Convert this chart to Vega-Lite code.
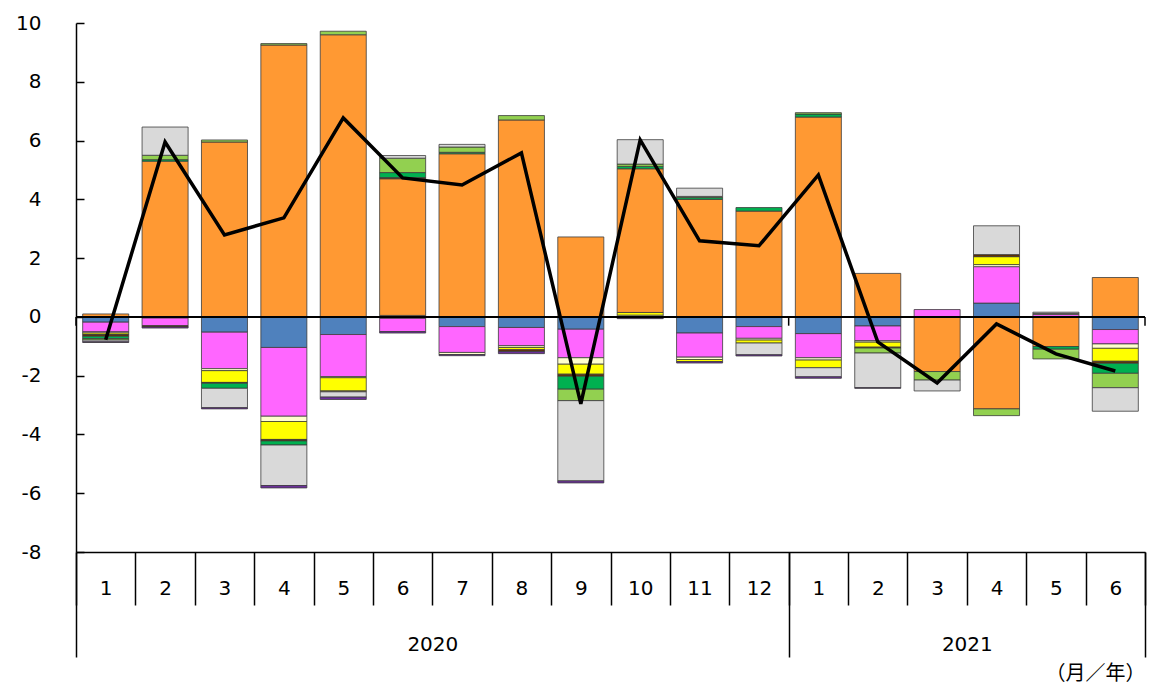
{
  "$schema": "https://vega.github.io/schema/vega-lite/v6.json",
  "width": 1069,
  "height": 529,
  "autosize": {"type": "none"},
  "padding": {"left": 76, "top": 23, "right": 6, "bottom": 136},
  "background": "white",
  "config": {"view": {"stroke": null}, "font": "DejaVu Sans", "axis": {"labelFont": "DejaVu Sans"}},
  "data": {"values": [
    {"period": "2020-01", "e_orange": 0.1, "a_blue": -0.18, "b_magenta": -0.33, "c_lightyellow": -0.04, "d_yellow": -0.05, "f_brown": -0.06, "g_darkgreen": -0.08, "h_lightgreen": -0.05, "i_gray": -0.06, "j_purple": -0.02, "total": -0.78},
    {"period": "2020-02", "e_orange": 5.3, "g_darkgreen": 0.05, "h_lightgreen": 0.15, "i_gray": 0.96, "a_blue": -0.04, "b_magenta": -0.26, "f_brown": -0.04, "j_purple": -0.04, "total": 5.95},
    {"period": "2020-03", "e_orange": 5.95, "h_lightgreen": 0.07, "a_blue": -0.52, "b_magenta": -1.24, "c_lightyellow": -0.07, "d_yellow": -0.4, "f_brown": -0.03, "g_darkgreen": -0.17, "i_gray": -0.66, "j_purple": -0.04, "total": 2.79},
    {"period": "2020-04", "e_orange": 9.25, "h_lightgreen": 0.05, "a_blue": -1.04, "b_magenta": -2.34, "c_lightyellow": -0.18, "d_yellow": -0.61, "f_brown": -0.05, "g_darkgreen": -0.14, "i_gray": -1.38, "j_purple": -0.08, "total": 3.37},
    {"period": "2020-05", "e_orange": 9.6, "h_lightgreen": 0.12, "a_blue": -0.6, "b_magenta": -1.43, "c_lightyellow": -0.04, "d_yellow": -0.45, "f_brown": -0.03, "i_gray": -0.18, "j_purple": -0.08, "total": 6.77},
    {"period": "2020-06", "c_lightyellow": 0.05, "e_orange": 4.65, "f_brown": 0.04, "g_darkgreen": 0.17, "h_lightgreen": 0.49, "i_gray": 0.09, "a_blue": -0.05, "b_magenta": -0.45, "j_purple": -0.05, "total": 4.73},
    {"period": "2020-07", "e_orange": 5.55, "g_darkgreen": 0.05, "h_lightgreen": 0.18, "i_gray": 0.09, "a_blue": -0.33, "b_magenta": -0.88, "c_lightyellow": -0.07, "j_purple": -0.04, "total": 4.49},
    {"period": "2020-08", "e_orange": 6.7, "h_lightgreen": 0.15, "a_blue": -0.36, "b_magenta": -0.62, "c_lightyellow": -0.06, "d_yellow": -0.08, "f_brown": -0.06, "j_purple": -0.07, "total": 5.58},
    {"period": "2020-09", "e_orange": 2.72, "a_blue": -0.42, "b_magenta": -0.97, "c_lightyellow": -0.22, "d_yellow": -0.34, "f_brown": -0.07, "g_darkgreen": -0.44, "h_lightgreen": -0.39, "i_gray": -2.73, "j_purple": -0.07, "total": -2.96},
    {"period": "2020-10", "c_lightyellow": 0.06, "d_yellow": 0.09, "e_orange": 4.89, "g_darkgreen": 0.08, "h_lightgreen": 0.08, "i_gray": 0.83, "a_blue": -0.03, "j_purple": -0.03, "total": 6.02},
    {"period": "2020-11", "e_orange": 4.0, "g_darkgreen": 0.06, "h_lightgreen": 0.04, "i_gray": 0.28, "a_blue": -0.55, "b_magenta": -0.82, "c_lightyellow": -0.08, "d_yellow": -0.07, "j_purple": -0.05, "total": 2.59},
    {"period": "2020-12", "e_orange": 3.6, "g_darkgreen": 0.12, "a_blue": -0.33, "b_magenta": -0.4, "c_lightyellow": -0.06, "d_yellow": -0.1, "i_gray": -0.4, "j_purple": -0.04, "total": 2.42},
    {"period": "2021-01", "e_orange": 6.8, "g_darkgreen": 0.1, "h_lightgreen": 0.05, "a_blue": -0.57, "b_magenta": -0.82, "c_lightyellow": -0.08, "d_yellow": -0.26, "i_gray": -0.31, "j_purple": -0.05, "total": 4.83},
    {"period": "2021-02", "e_orange": 1.48, "a_blue": -0.31, "b_magenta": -0.5, "c_lightyellow": -0.05, "d_yellow": -0.17, "f_brown": -0.03, "h_lightgreen": -0.17, "i_gray": -1.18, "j_purple": -0.02, "total": -0.85},
    {"period": "2021-03", "b_magenta": 0.25, "e_orange": -1.86, "h_lightgreen": -0.29, "i_gray": -0.37, "total": -2.25},
    {"period": "2021-04", "a_blue": 0.47, "b_magenta": 1.24, "c_lightyellow": 0.07, "d_yellow": 0.27, "f_brown": 0.07, "i_gray": 0.98, "e_orange": -3.13, "h_lightgreen": -0.23, "total": -0.24},
    {"period": "2021-05", "b_magenta": 0.08, "c_lightyellow": 0.04, "i_gray": 0.04, "e_orange": -1.01, "g_darkgreen": -0.09, "h_lightgreen": -0.33, "total": -1.26},
    {"period": "2021-06", "e_orange": 1.34, "a_blue": -0.43, "b_magenta": -0.49, "c_lightyellow": -0.15, "d_yellow": -0.44, "f_brown": -0.07, "g_darkgreen": -0.34, "h_lightgreen": -0.49, "i_gray": -0.8, "total": -1.84}
  ]},
  "layer": [
    {
      "layer": [
        {
          "transform": [
            {"fold": ["a_blue", "b_magenta", "c_lightyellow", "d_yellow", "e_orange", "f_brown", "g_darkgreen", "h_lightgreen", "i_gray", "j_purple"], "as": ["series", "value"]},
            {"filter": "isValid(datum.value)"}
          ],
          "mark": {"type": "bar", "stroke": "#3c3c3c", "strokeWidth": 0.8, "width": {"band": 0.775}},
          "encoding": {
            "x": {
              "field": "period", "type": "ordinal",
              "scale": {"paddingInner": 0, "paddingOuter": 0},
              "axis": {
                "orient": "bottom", "title": null, "grid": false,
                "labelExpr": "isValid(datum.value) && datum.value != '' ? '' + toNumber(substring(datum.value, 5)) : ''",
                "labelAngle": 0, "labelFontSize": 20, "labelColor": "black",
                "labelBaseline": "middle", "labelPadding": -17,
                "tickBand": "extent", "tickSize": 53, "tickColor": "black", "tickWidth": 1.5,
                "domainColor": "black", "domainWidth": 1.5
              }
            },
            "y": {
              "field": "value", "type": "quantitative", "stack": "zero",
              "scale": {"domain": [-8, 10], "nice": false, "zero": false},
              "axis": {
                "title": null, "grid": false,
                "values": [-8, -6, -4, -2, 0, 2, 4, 6, 8, 10],
                "labelExpr": "'' + datum.value",
                "labelFontSize": 20, "labelColor": "black",
                "tickSize": -8, "tickColor": "black", "tickWidth": 1.5,
                "labelPadding": 43,
                "domainColor": "black", "domainWidth": 1.5
              }
            },
            "color": {
              "field": "series", "type": "nominal", "legend": null,
              "scale": {
                "domain": ["a_blue", "b_magenta", "c_lightyellow", "d_yellow", "e_orange", "f_brown", "g_darkgreen", "h_lightgreen", "i_gray", "j_purple"],
                "range": ["#4F81BD", "#FF66FF", "#FFFFCC", "#FFFF00", "#FF9933", "#663300", "#00B050", "#92D050", "#D9D9D9", "#7030A0"]
              }
            },
            "order": {"field": "series", "sort": "ascending"}
          }
        },
        {
          "data": {"values": [{"level": 0}]},
          "mark": {"type": "rule", "color": "black", "strokeWidth": 2},
          "encoding": {"y": {"field": "level", "type": "quantitative", "scale": {"domain": [-8, 10], "nice": false, "zero": false}}}
        },
        {
          "mark": {"type": "line", "color": "black", "strokeWidth": 3.5, "strokeJoin": "miter"},
          "encoding": {
            "x": {"field": "period", "type": "ordinal"},
            "y": {"field": "total", "type": "quantitative", "scale": {"domain": [-8, 10], "nice": false, "zero": false}}
          }
        }
      ]
    },
    {
      "data": {"values": [{"boundary": 0}, {"boundary": 12}, {"boundary": 18}]},
      "mark": {"type": "rule", "color": "black", "strokeWidth": 1.5},
      "encoding": {
        "x": {
          "field": "boundary", "type": "quantitative",
          "scale": {"domain": [0, 18], "nice": false, "zero": false},
          "axis": {
            "orient": "bottom", "grid": false, "domain": false,
            "values": [0, 6, 12, 15, 18],
            "labelExpr": "datum.value == 6 ? '2020' : datum.value == 15 ? '2021' : ''",
            "labelFlush": false, "labelOverlap": false, "labelBound": false,
            "labelFontSize": 20, "labelColor": "black",
            "labelBaseline": "middle", "labelPadding": -13,
            "tickSize": 105, "tickColor": "black", "tickWidth": 1.5,
            "tickOpacity": {"condition": {"test": "datum.value == 6 || datum.value == 15", "value": 0}, "value": 1},
            "title": "（月／年）", "titleFont": "Noto Sans CJK JP", "titleFontSize": 20, "titleFontWeight": "normal",
            "titleColor": "black", "titleAnchor": "end", "titlePadding": 6
          }
        },
        "y": {"datum": 0, "scale": {"domain": [-8, 10], "nice": false, "zero": false}},
        "y2": {"datum": -0.3}
      }
    }
  ],
  "resolve": {"scale": {"x": "independent"}}
}
